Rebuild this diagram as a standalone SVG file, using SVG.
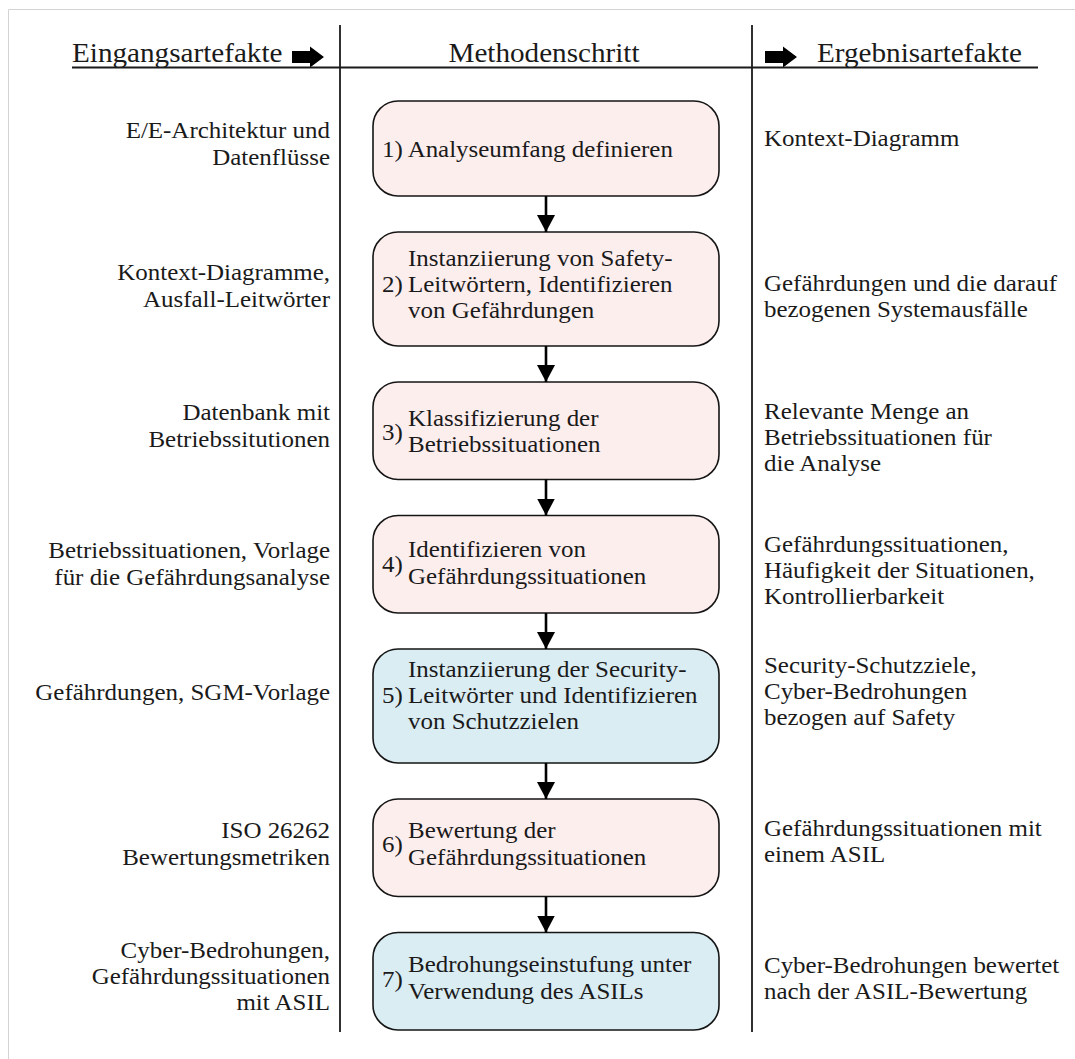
<svg xmlns="http://www.w3.org/2000/svg" width="1075" height="1059" viewBox="0 0 1075 1059">
  <style>
    .hd { font-family: "Liberation Serif", "Times New Roman", serif; font-size: 27px; fill: #1a1a1a; }
    .t { font-family: "Liberation Serif", "Times New Roman", serif; font-size: 24px; fill: #1a1a1a; }
    .r { text-anchor: end; }
    .box { stroke: #151515; stroke-width: 1.6; }
    .safety { fill: #fdeeee; }
    .security { fill: #daedf3; }
    .rule { stroke: #1a1a1a; stroke-width: 1.8; fill: none; }
    .frame { stroke: #d4d4d4; stroke-width: 1; fill: none; }
    .conn line { stroke: #000; stroke-width: 2.6; }
  </style>
  <defs>
    <marker id="head" markerUnits="userSpaceOnUse" markerWidth="17" markerHeight="18" refX="17" refY="9" orient="auto">
      <path d="M0,0 L17,9 L0,18 Z" fill="#000"/>
    </marker>
  </defs>

  <rect width="1075" height="1059" fill="#fff"/>
  <!-- page frame -->
  <path class="frame" d="M8.5,1059 V9.5 H1075"/>

  <!-- column headers -->
  <g id="header">
    <text class="hd" transform="translate(72 62) scale(1.08 1)">Eingangsartefakte</text>
    <path d="M292,51 H310 V46.5 L324,57 L310,67.5 V63 H292 Z" fill="#000"/>
    <text class="hd" text-anchor="middle" transform="translate(544 62) scale(1.08 1)">Methodenschritt</text>
    <path d="M765,51 H783 V46.5 L797,57 L783,67.5 V63 H765 Z" fill="#000"/>
    <text class="hd" transform="translate(817 62) scale(1.08 1)">Ergebnisartefakte</text>
    <line class="rule" x1="72" y1="67.5" x2="1038" y2="67.5" stroke-width="1.3"/>
  </g>

  <!-- column separators -->
  <g id="separators">
    <line class="rule" x1="340" y1="25" x2="340" y2="1032"/>
    <line class="rule" x1="752" y1="25" x2="752" y2="1032"/>
  </g>

  <!-- input artefacts (right aligned at x=330) -->
  <g id="inputs">
    <g id="in1">
      <text class="t r" transform="translate(330 138) scale(1.04 1)">E/E-Architektur und</text>
      <text class="t r" transform="translate(330 165) scale(1.04 1)">Datenflüsse</text>
    </g>
    <g id="in2">
      <text class="t r" transform="translate(330 280) scale(1.04 1)">Kontext-Diagramme,</text>
      <text class="t r" transform="translate(330 307) scale(1.04 1)">Ausfall-Leitwörter</text>
    </g>
    <g id="in3">
      <text class="t r" transform="translate(330 420) scale(1.04 1)">Datenbank mit</text>
      <text class="t r" transform="translate(330 447) scale(1.04 1)">Betriebssitutionen</text>
    </g>
    <g id="in4">
      <text class="t r" transform="translate(330 558) scale(1.04 1)">Betriebssituationen, Vorlage</text>
      <text class="t r" transform="translate(330 585) scale(1.04 1)">für die Gefährdungsanalyse</text>
    </g>
    <g id="in5">
      <text class="t r" transform="translate(330 700) scale(1.04 1)">Gefährdungen, SGM-Vorlage</text>
    </g>
    <g id="in6">
      <text class="t r" transform="translate(330 838) scale(1.04 1)">ISO 26262</text>
      <text class="t r" transform="translate(330 865) scale(1.04 1)">Bewertungsmetriken</text>
    </g>
    <g id="in7">
      <text class="t r" transform="translate(330 958) scale(1.04 1)">Cyber-Bedrohungen,</text>
      <text class="t r" transform="translate(330 984) scale(1.04 1)">Gefährdungssituationen</text>
      <text class="t r" transform="translate(330 1010) scale(1.04 1)">mit ASIL</text>
    </g>
  </g>

  <!-- method steps -->
  <g id="step1">
    <rect class="box safety" x="373" y="101" width="346" height="95" rx="25"/>
    <text class="t" transform="translate(382 157) scale(1.04 1)">1) Analyseumfang definieren</text>
  </g>
  <g id="step2">
    <rect class="box safety" x="373" y="232" width="346" height="114" rx="25"/>
    <text class="t" transform="translate(382 292) scale(1.04 1)">2)</text>
    <text class="t" transform="translate(408 266) scale(1.04 1)">Instanziierung von Safety-</text>
    <text class="t" transform="translate(408 292) scale(1.04 1)">Leitwörtern, Identifizieren</text>
    <text class="t" transform="translate(408 318) scale(1.04 1)">von Gefährdungen</text>
  </g>
  <g id="step3">
    <rect class="box safety" x="373" y="382" width="346" height="97.5" rx="25"/>
    <text class="t" transform="translate(382 440) scale(1.04 1)">3)</text>
    <text class="t" transform="translate(408 425.5) scale(1.04 1)">Klassifizierung der</text>
    <text class="t" transform="translate(408 452) scale(1.04 1)">Betriebssituationen</text>
  </g>
  <g id="step4">
    <rect class="box safety" x="373" y="515.5" width="346" height="97.5" rx="25"/>
    <text class="t" transform="translate(382 571.5) scale(1.04 1)">4)</text>
    <text class="t" transform="translate(408 557) scale(1.04 1)">Identifizieren von</text>
    <text class="t" transform="translate(408 584) scale(1.04 1)">Gefährdungssituationen</text>
  </g>
  <g id="step5">
    <rect class="box security" x="373" y="649" width="346" height="114" rx="25"/>
    <text class="t" transform="translate(382 703) scale(1.04 1)">5)</text>
    <text class="t" transform="translate(408 677) scale(1.04 1)">Instanziierung der Security-</text>
    <text class="t" transform="translate(408 703) scale(1.04 1)">Leitwörter und Identifizieren</text>
    <text class="t" transform="translate(408 729) scale(1.04 1)">von Schutzzielen</text>
  </g>
  <g id="step6">
    <rect class="box safety" x="373" y="799" width="346" height="97.5" rx="25"/>
    <text class="t" transform="translate(382 852) scale(1.04 1)">6)</text>
    <text class="t" transform="translate(408 837.5) scale(1.04 1)">Bewertung der</text>
    <text class="t" transform="translate(408 864.5) scale(1.04 1)">Gefährdungssituationen</text>
  </g>
  <g id="step7">
    <rect class="box security" x="373" y="932.5" width="346" height="97.5" rx="25"/>
    <text class="t" transform="translate(382 986.5) scale(1.04 1)">7)</text>
    <text class="t" transform="translate(408 972) scale(1.04 1)">Bedrohungseinstufung unter</text>
    <text class="t" transform="translate(408 999) scale(1.04 1)">Verwendung des ASILs</text>
  </g>

  <!-- flow between steps -->
  <g class="conn">
    <line x1="546" y1="196" x2="546" y2="232" marker-end="url(#head)"/>
    <line x1="546" y1="346" x2="546" y2="382" marker-end="url(#head)"/>
    <line x1="546" y1="479.5" x2="546" y2="515.5" marker-end="url(#head)"/>
    <line x1="546" y1="613" x2="546" y2="649" marker-end="url(#head)"/>
    <line x1="546" y1="763" x2="546" y2="799" marker-end="url(#head)"/>
    <line x1="546" y1="896.5" x2="546" y2="932.5" marker-end="url(#head)"/>
  </g>

  <!-- output artefacts (left aligned at x=764) -->
  <g id="outputs">
    <g id="out1">
      <text class="t" transform="translate(764 146) scale(1.04 1)">Kontext-Diagramm</text>
    </g>
    <g id="out2">
      <text class="t" transform="translate(764 291) scale(1.04 1)">Gefährdungen und die darauf</text>
      <text class="t" transform="translate(764 317) scale(1.04 1)">bezogenen Systemausfälle</text>
    </g>
    <g id="out3">
      <text class="t" transform="translate(764 419) scale(1.04 1)">Relevante Menge an</text>
      <text class="t" transform="translate(764 445) scale(1.04 1)">Betriebssituationen für</text>
      <text class="t" transform="translate(764 471) scale(1.04 1)">die Analyse</text>
    </g>
    <g id="out4">
      <text class="t" transform="translate(764 552) scale(1.04 1)">Gefährdungssituationen,</text>
      <text class="t" transform="translate(764 578) scale(1.04 1)">Häufigkeit der Situationen,</text>
      <text class="t" transform="translate(764 604) scale(1.04 1)">Kontrollierbarkeit</text>
    </g>
    <g id="out5">
      <text class="t" transform="translate(764 673) scale(1.04 1)">Security-Schutzziele,</text>
      <text class="t" transform="translate(764 699) scale(1.04 1)">Cyber-Bedrohungen</text>
      <text class="t" transform="translate(764 725) scale(1.04 1)">bezogen auf Safety</text>
    </g>
    <g id="out6">
      <text class="t" transform="translate(764 836) scale(1.04 1)">Gefährdungssituationen mit</text>
      <text class="t" transform="translate(764 862) scale(1.04 1)">einem ASIL</text>
    </g>
    <g id="out7">
      <text class="t" transform="translate(764 973) scale(1.04 1)">Cyber-Bedrohungen bewertet</text>
      <text class="t" transform="translate(764 999) scale(1.04 1)">nach der ASIL-Bewertung</text>
    </g>
  </g>
</svg>
